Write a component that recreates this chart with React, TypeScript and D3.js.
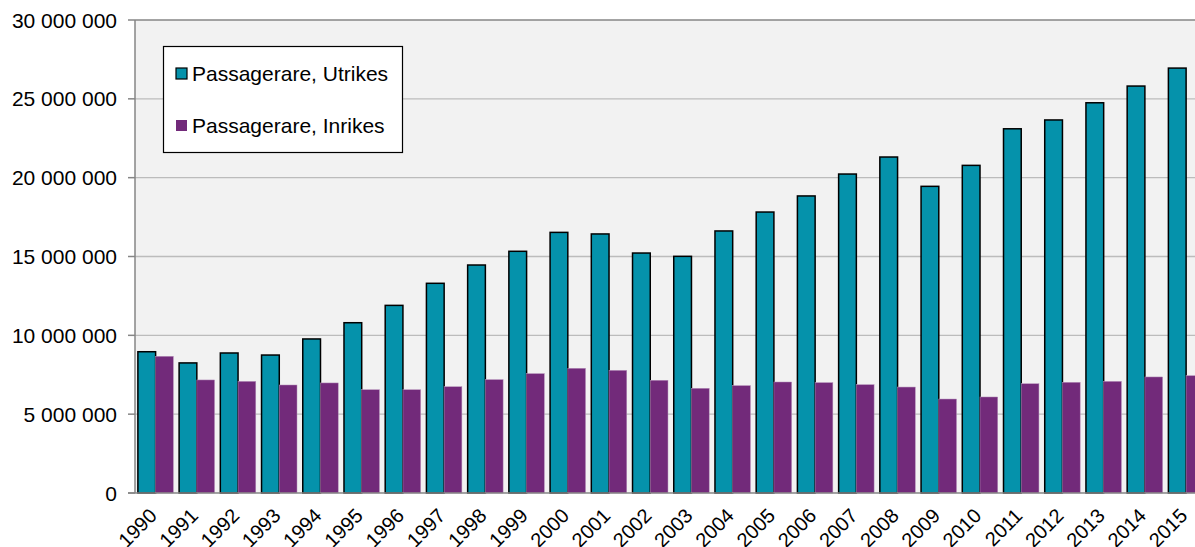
import React from "react";
import * as d3 from "d3";

const years = [
    "1990", "1991", "1992", "1993", "1994", "1995", "1996", "1997", "1998", "1999",
    "2000", "2001", "2002", "2003", "2004", "2005", "2006", "2007", "2008", "2009",
    "2010", "2011", "2012", "2013", "2014", "2015",
];

const utrikes = [
    8960000, 8250000, 8880000, 8750000, 9770000, 10800000, 11900000, 13300000, 14460000, 15330000,
    16530000, 16430000, 15220000, 15010000, 16620000, 17820000, 18840000, 20230000, 21310000, 19450000,
    20780000, 23100000, 23660000, 24750000, 25810000, 26950000,
];

const inrikes = [
    8670000, 7170000, 7080000, 6850000, 6980000, 6550000, 6550000, 6740000, 7190000, 7570000,
    7910000, 7780000, 7150000, 6640000, 6810000, 7040000, 7000000, 6870000, 6720000, 5960000,
    6090000, 6930000, 7020000, 7080000, 7360000, 7440000,
];

const seriesNames = ["Passagerare, Utrikes", "Passagerare, Inrikes"];
const seriesColors = ["#0592ab", "#722a7a"];
const yTicks = [0, 5000000, 10000000, 15000000, 20000000, 25000000, 30000000];

const W = 1195;
const H = 547;
const left = 135;
const top = 20;
const bottom = 493;
const step = 41.22;
const font = "'Liberation Sans', Arial, sans-serif";

const fmt = (v: number) => d3.format(",")(v).replace(/,/g, " ");

export default function App() {
    const x = d3
        .scaleBand<string>()
        .domain(years)
        .range([left, left + years.length * step])
        .paddingInner(0.14)
        .paddingOuter(0.07);
    const xs = d3.scaleBand<number>().domain([0, 1]).range([0, x.bandwidth()]);
    const y = d3.scaleLinear().domain([0, 30000000]).range([bottom, top]);
    const data = [utrikes, inrikes];

    return (
        <svg
            width={W}
            height={H}
            style={{ position: "absolute", left: 0, top: 0, background: "#fff" }}
            fontFamily={font}
        >
            <rect x={left} y={top} width={W - left} height={bottom - top} fill="#f2f2f2" />
            {yTicks.slice(1, -1).map((t) => (
                <line key={t} x1={left} x2={W} y1={y(t)} y2={y(t)} stroke="#bcbcbc" strokeWidth={1.3} />
            ))}
            {/* plot border */}
            <line x1={left} x2={W} y1={top} y2={top} stroke="#868686" strokeWidth={1.5} />

            {data.map((vals, si) =>
                vals.map((v, i) => (
                    <rect
                        key={`${si}-${i}`}
                        x={(x(years[i]) as number) + (xs(si) as number)}
                        y={y(v)}
                        width={xs.bandwidth()}
                        height={bottom - y(v)}
                        fill={seriesColors[si]}
                        stroke={si === 0 ? "#000" : "#b58fba"}
                        strokeWidth={si === 0 ? 1.5 : 0.5}
                    />
                ))
            )}

            <line x1={left} x2={left} y1={top} y2={bottom} stroke="#868686" strokeWidth={1.5} />
            <line x1={left - 7} x2={W} y1={bottom} y2={bottom} stroke="#868686" strokeWidth={1.5} />
            {yTicks.map((t) => (
                <g key={t}>
                    <line x1={left - 7} x2={left} y1={y(t)} y2={y(t)} stroke="#868686" strokeWidth={1.5} />
                    <text x={117} y={y(t)} dy="0.36em" textAnchor="end" fontSize={21} fill="#000">
                        {fmt(t)}
                    </text>
                </g>
            ))}

            {years.map((yr) => {
                const cx = (x(yr) as number) + x.bandwidth() / 2 + 2.5;
                return (
                    <text
                        key={yr}
                        transform={`translate(${cx},${517}) rotate(-45)`}
                        textAnchor="end"
                        fontSize={20}
                        fill="#000"
                    >
                        {yr}
                    </text>
                );
            })}

            <g>
                <rect x={163.5} y={46.5} width={239} height={106} fill="#fff" stroke="#000" strokeWidth={1.2} />
                {seriesNames.map((name, i) => (
                    <g key={name} transform={`translate(176,${73.5 + i * 52})`}>
                        <rect
                            x={0}
                            y={-5.5}
                            width={11}
                            height={11}
                            fill={seriesColors[i]}
                            stroke={i === 0 ? "#000" : "none"}
                            strokeWidth={1.2}
                        />
                        <text x={16} y={0} dy="0.36em" fontSize={21} fill="#000">
                            {name}
                        </text>
                    </g>
                ))}
            </g>
        </svg>
    );
}
